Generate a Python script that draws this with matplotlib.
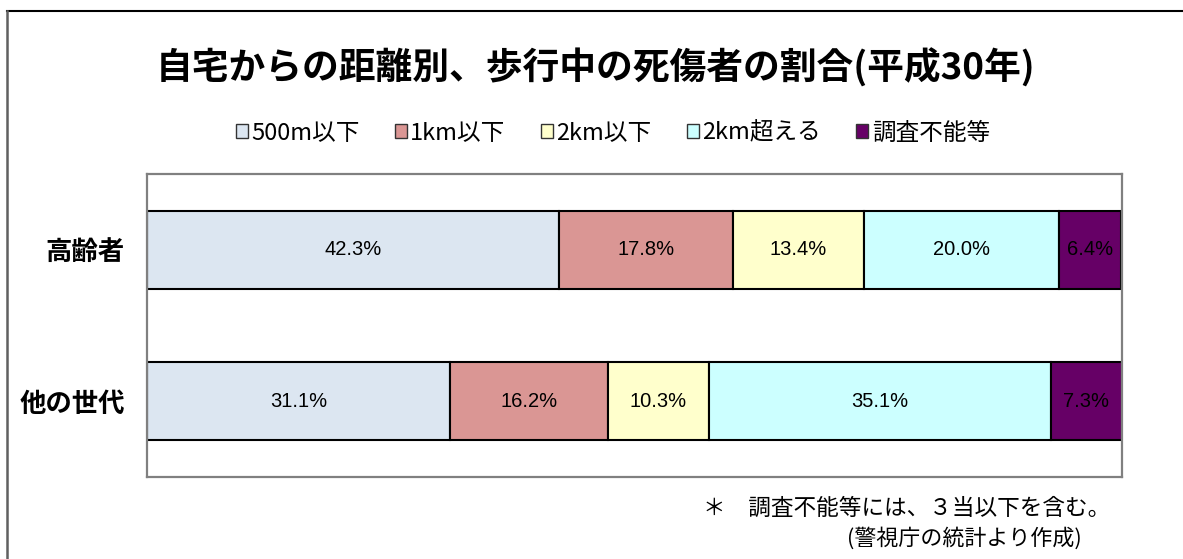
import matplotlib.pyplot as plt
from matplotlib.patches import Patch
from matplotlib.lines import Line2D

plt.rcParams['font.family'] = ['Noto Sans CJK JP', 'DejaVu Sans']

# data
groups = ['高齢者', '他の世代']
series = ['500m以下', '1km以下', '2km以下', '2km超える', '調査不能等']
elderly = [42.3, 17.8, 13.4, 20.0, 6.4]
others = [31.1, 16.2, 10.3, 35.1, 7.3]
colors = ['#DCE6F1', '#DA9694', '#FFFFCC', '#CCFFFF', '#660066']

fig = plt.figure(figsize=(11.83, 5.59), dpi=100)
ax = fig.add_axes([0.1243, 0.1467, 0.8241, 0.542])

ypos = [1, 0]
rows = [elderly, others]
for y, vals in zip(ypos, rows):
    left = 0
    for v, c in zip(vals, colors):
        ax.barh(y, v, left=left, height=0.515, color=c, edgecolor='black', linewidth=1.5)
        ax.text(left + v / 2, y, f'{v:.1f}%', ha='center', va='center',
                fontsize=14.5, family=['Liberation Sans', 'DejaVu Sans'], color='black')
        left += v

ax.set_xlim(0, 100)
ax.set_ylim(-0.5, 1.5)
ax.set_xticks([])
ax.set_yticks(ypos)
ax.set_yticklabels(groups, fontsize=19, fontweight='bold')
ax.tick_params(axis='y', length=0, pad=16)
for s in ax.spines.values():
    s.set_color('#808080')
    s.set_linewidth(1.6)

fig.text(0.503, 0.878, '自宅からの距離別、歩行中の死傷者の割合(平成30年)',
         ha='center', va='center', fontsize=26.5, fontweight='bold')

handles = [Patch(facecolor=c, edgecolor='#333333', linewidth=1.0) for c in colors]
fig.legend(handles, series, loc='center', bbox_to_anchor=(0.518, 0.762), ncol=5,
           frameon=False, fontsize=17, handlelength=0.5, handleheight=0.5,
           handletextpad=0.15, columnspacing=1.5)

fig.text(0.594, 1 - 508 / 559, '＊　調査不能等には、３当以下を含む。',
         ha='left', va='center', fontsize=16.3)
fig.text(0.716, 1 - 538 / 559, '(警視庁の統計より作成)',
         ha='left', va='center', fontsize=15.8)

# outer frame (top and left only)
fig.add_artist(Line2D([7 / 1183, 1], [1 - 11 / 559, 1 - 11 / 559], color='black', lw=1.5))
fig.add_artist(Line2D([7 / 1183, 7 / 1183], [0, 1 - 11 / 559], color='#606060', lw=1.8))

fig.savefig('out.png', dpi=100)
